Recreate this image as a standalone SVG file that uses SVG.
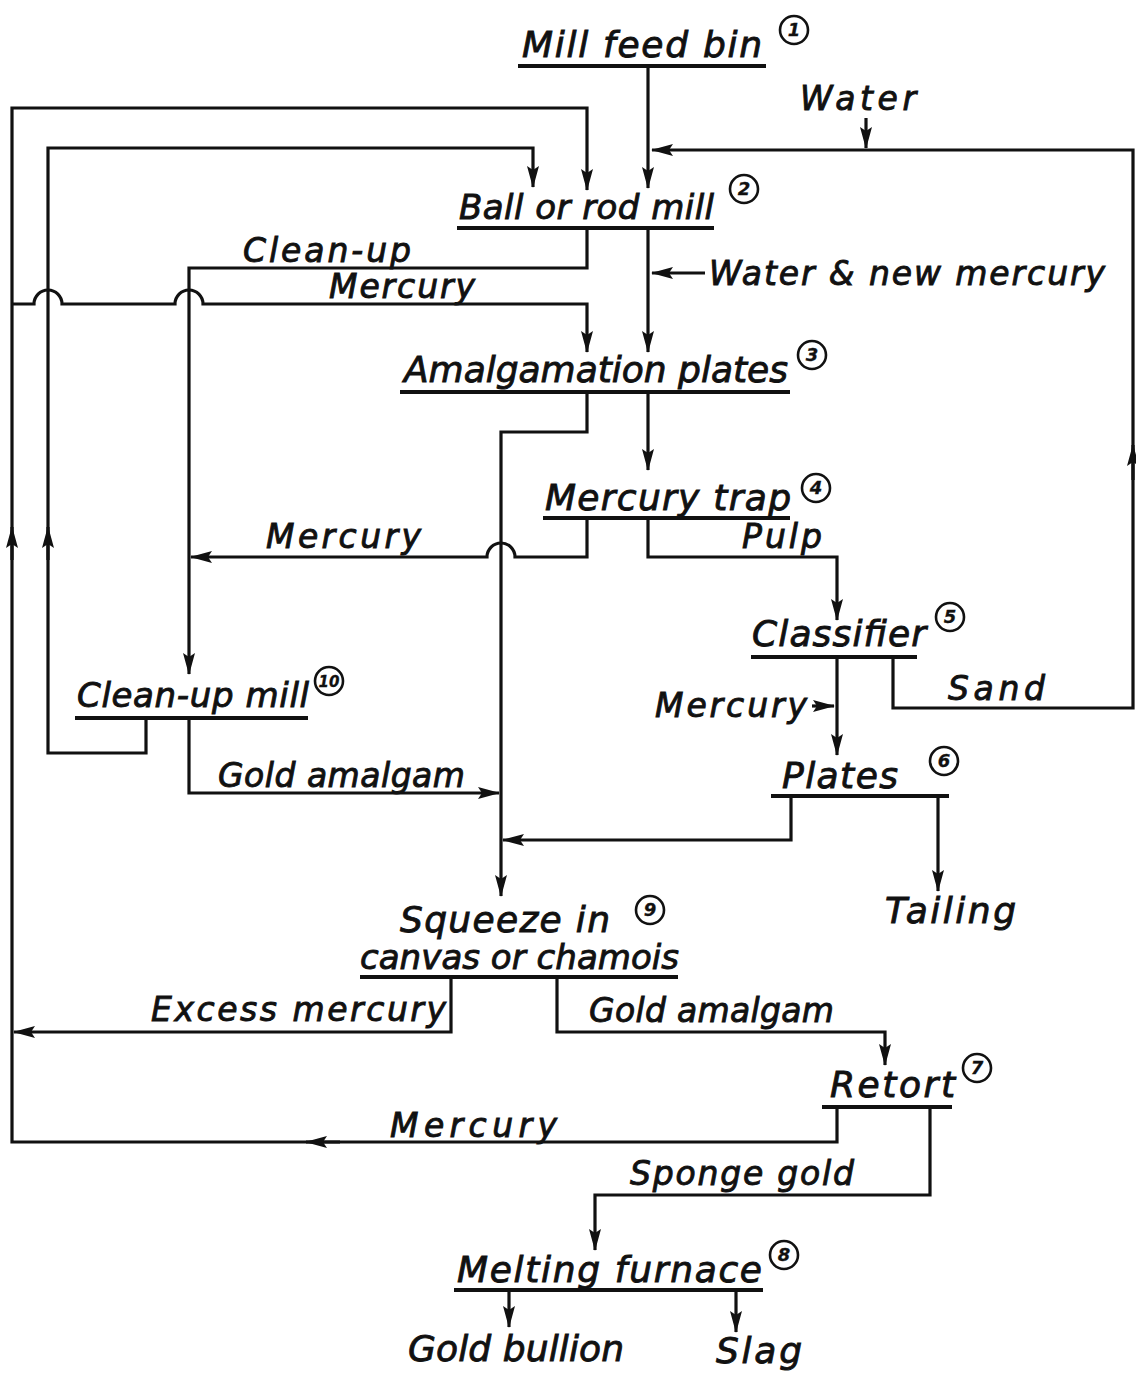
<svg xmlns="http://www.w3.org/2000/svg" width="1136" height="1373" viewBox="0 0 1136 1373">
<style>
text{font-family:"DejaVu Sans","Liberation Sans",sans-serif;font-style:italic;fill:#111;stroke:#111;stroke-width:0.9}
.n{font-size:36px}
.s{font-size:34px}
.e{font-size:33px}
.b{font-size:36px}
.num{font-size:18px;font-weight:bold;text-anchor:middle;stroke-width:0.3}
.ul{stroke:#111;stroke-width:4;fill:none}
.ci{stroke:#111;stroke-width:2.6;fill:none}
#connectors path{stroke:#111;stroke-width:3.2;fill:none;stroke-linejoin:miter}
.ar{marker-end:url(#a)}
</style>
<defs>
<marker id="a" markerUnits="userSpaceOnUse" viewBox="-24 -8 26 16" refX="0" refY="0" markerWidth="26" markerHeight="16" orient="auto">
<path d="M1,0 L-21,-6 L-17,0 L-21,6 Z" fill="#111"/>
</marker>
</defs>
<rect width="1136" height="1373" fill="#fff"/>

<g id="connectors">
<path class="ar" d="M648,66 V188"/>
<path class="ar" d="M866,118 V148"/>
<path class="ar" d="M893,657 V708 H1133 V150 H652"/>
<path class="ar" d="M1133,480 V445"/>
<path class="ar" d="M587,228 V268 H189 V674"/>
<path class="ar" d="M648,228 V352"/>
<path class="ar" d="M705,273 H652"/>
<path class="ar" d="M837,1107 V1142 H12 V108 H587 V190"/>
<path class="ar" d="M12,560 V527"/>
<path class="ar" d="M340,1142 H306"/>
<path class="ar" d="M146,718 V753 H48 V148 H533 V187"/>
<path class="ar" d="M48,560 V527"/>
<path class="ar" d="M12,304 H34 A14,14 0 0 1 62,304 H175 A14,14 0 0 1 203,304 H587 V352"/>
<path class="ar" d="M587,392 V432 H501 V896"/>
<path class="ar" d="M648,392 V470"/>
<path class="ar" d="M587,518 V557 H515 A14,14 0 0 0 487,557 H191"/>
<path class="ar" d="M648,518 V557 H837 V620"/>
<path class="ar" d="M837,657 V755"/>
<path class="ar" d="M812,706 H834"/>
<path class="ar" d="M791,796 V840 H503"/>
<path class="ar" d="M938,796 V891"/>
<path class="ar" d="M189,718 V793 H499"/>
<path class="ar" d="M451,977 V1032 H14"/>
<path class="ar" d="M557,977 V1032 H885 V1065"/>
<path class="ar" d="M930,1107 V1195 H595 V1250"/>
<path class="ar" d="M509,1290 V1327"/>
<path class="ar" d="M736,1290 V1332"/>
</g>

<g id="n1">
<text class="n" x="522" y="57" textLength="240" lengthAdjust="spacing">Mill feed bin</text>
<line class="ul" x1="518" y1="66" x2="766" y2="66"/>
<circle class="ci" cx="794" cy="30" r="14"/><text class="num" x="794" y="36">1</text>
</g>
<g id="water-in">
<text class="e" x="800" y="110" textLength="116" lengthAdjust="spacing">Water</text>
</g>
<g id="n2">
<text class="s" x="459" y="219" textLength="255" lengthAdjust="spacing">Ball or rod mill</text>
<line class="ul" x1="457" y1="228" x2="714" y2="228"/>
<circle class="ci" cx="744" cy="189" r="14"/><text class="num" x="744" y="195">2</text>
</g>
<g id="n3">
<text class="n" x="404" y="382" textLength="384" lengthAdjust="spacing">Amalgamation plates</text>
<line class="ul" x1="400" y1="392" x2="790" y2="392"/>
<circle class="ci" cx="812" cy="355" r="14"/><text class="num" x="812" y="361">3</text>
</g>
<g id="n4">
<text class="n" x="545" y="510" textLength="246" lengthAdjust="spacing">Mercury trap</text>
<line class="ul" x1="543" y1="518" x2="790" y2="518"/>
<circle class="ci" cx="816" cy="488" r="14"/><text class="num" x="816" y="494">4</text>
</g>
<g id="n5">
<text class="n" x="752" y="646" textLength="174" lengthAdjust="spacing">Classifier</text>
<line class="ul" x1="751" y1="657" x2="917" y2="657"/>
<circle class="ci" cx="950" cy="617" r="14"/><text class="num" x="950" y="623">5</text>
</g>
<g id="n6">
<text class="n" x="782" y="788" textLength="116" lengthAdjust="spacing">Plates</text>
<line class="ul" x1="771" y1="796" x2="949" y2="796"/>
<circle class="ci" cx="944" cy="761" r="14"/><text class="num" x="944" y="767">6</text>
</g>
<g id="n10">
<text class="s" x="77" y="707" textLength="232" lengthAdjust="spacing">Clean-up mill</text>
<line class="ul" x1="75" y1="718" x2="308" y2="718"/>
<circle class="ci" cx="329" cy="681" r="14"/><text class="num" x="329" y="687" style="font-size:15px">10</text>
</g>
<g id="n9">
<text class="n" x="400" y="932" textLength="210" lengthAdjust="spacing">Squeeze in</text>
<text class="s" x="360" y="969" textLength="319" lengthAdjust="spacing">canvas or chamois</text>
<line class="ul" x1="360" y1="977" x2="678" y2="977"/>
<circle class="ci" cx="650" cy="910" r="14"/><text class="num" x="650" y="916">9</text>
</g>
<g id="n7">
<text class="n" x="830" y="1097" textLength="125" lengthAdjust="spacing">Retort</text>
<line class="ul" x1="822" y1="1107" x2="952" y2="1107"/>
<circle class="ci" cx="977" cy="1068" r="14"/><text class="num" x="977" y="1074">7</text>
</g>
<g id="n8">
<text class="n" x="457" y="1282" textLength="305" lengthAdjust="spacing">Melting furnace</text>
<line class="ul" x1="454" y1="1290" x2="763" y2="1290"/>
<circle class="ci" cx="784" cy="1255" r="14"/><text class="num" x="784" y="1261">8</text>
</g>
<g id="tailing"><text class="b" x="885" y="923" textLength="131" lengthAdjust="spacing">Tailing</text></g>
<g id="bullion"><text class="b" x="408" y="1361" textLength="216" lengthAdjust="spacing">Gold bullion</text></g>
<g id="slag"><text class="b" x="716" y="1363" textLength="86" lengthAdjust="spacing">Slag</text></g>

<g id="labels">
<text class="e" x="243" y="262" textLength="168" lengthAdjust="spacing">Clean-up</text>
<text class="e" x="709" y="285" textLength="396" lengthAdjust="spacing">Water &amp; new mercury</text>
<text class="e" x="329" y="298" textLength="146" lengthAdjust="spacing">Mercury</text>
<text class="e" x="266" y="548" textLength="155" lengthAdjust="spacing">Mercury</text>
<text class="e" x="742" y="548" textLength="80" lengthAdjust="spacing">Pulp</text>
<text class="e" x="948" y="700" textLength="97" lengthAdjust="spacing">Sand</text>
<text class="e" x="655" y="717" textLength="152" lengthAdjust="spacing">Mercury</text>
<text class="e" x="218" y="787" textLength="247" lengthAdjust="spacing">Gold amalgam</text>
<text class="e" x="151" y="1021" textLength="295" lengthAdjust="spacing">Excess mercury</text>
<text class="e" x="589" y="1022" textLength="245" lengthAdjust="spacing">Gold amalgam</text>
<text class="e" x="390" y="1137" textLength="167" lengthAdjust="spacing">Mercury</text>
<text class="e" x="630" y="1185" textLength="224" lengthAdjust="spacing">Sponge gold</text>
</g>
</svg>
